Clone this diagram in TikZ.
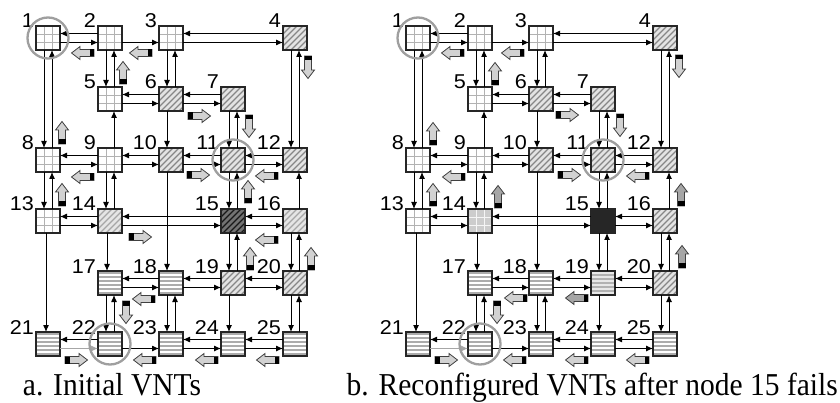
\documentclass[tikz,border=0pt]{standalone}
\usepackage{fontspec}
\setmainfont{Liberation Serif}
\newfontfamily\numfont{Liberation Sans}
\usetikzlibrary{arrows.meta}
\tikzset{
  box/.style={draw=black!85,line width=1.5pt,minimum size=24pt,inner sep=0pt,outer sep=0pt},
  gridbox/.style 2 args={box,fill=#1,path picture={
      \foreach \i in {-4,4}{
        \draw[#2,line width=0.8pt] ([xshift=\i pt]path picture bounding box.north) -- ([xshift=\i pt]path picture bounding box.south);
        \draw[#2,line width=0.8pt] ([yshift=\i pt]path picture bounding box.west) -- ([yshift=\i pt]path picture bounding box.east);}}},
  hatchbox/.style 2 args={box,fill=#1,path picture={
      \foreach \i in {-36,-30,...,12}{
        \draw[#2,line width=1.3pt] ([xshift=\i pt,yshift=-14pt]path picture bounding box.center) -- ++(28pt,28pt);}}},
  hlinebox/.style 2 args={box,fill=#1,path picture={
      \foreach \i in {-10,-6,-2,2,6,10}{
        \draw[#2,line width=1.3pt] ([yshift=\i pt]path picture bounding box.west) -- ([yshift=\i pt]path picture bounding box.east);}}},
  nG/.style={gridbox={white}{gray!60}},
  nGG/.style={gridbox={gray!40}{gray!8}},
  nH/.style={hatchbox={gray!22}{gray!95}},
  nHL/.style={hatchbox={gray!20}{gray!70}},
  nHD/.style={hatchbox={black!55}{black!90}},
  nS/.style={hlinebox={white}{gray!65}},
  nSG/.style={hlinebox={gray!60}{gray!18}},
  nK/.style={box,fill=black!85},
  lab/.style={anchor=base east,font=\numfont\fontsize{20}{22}\selectfont,inner sep=0pt,xshift=-2pt,yshift=-2pt},
  conn/.style={draw=black,line width=1pt,-{Latex[length=7pt,width=6pt]}},
  ring/.style={draw=gray!75,line width=2.3pt},
  captext/.style={font=\fontsize{29.5}{32}\selectfont,inner sep=0pt}
}
\newcommand\HLft[3]{\draw[conn] ([yshift=#3]#1.west) -- ([yshift=#3]#2.east);}
\newcommand\HRgt[3]{\draw[conn] ([yshift=#3]#1.east) -- ([yshift=#3]#2.west);}
\newcommand\VDn[3]{\draw[conn] ([xshift=#3]#1.south) -- ([xshift=#3]#2.north);}
\newcommand\VUp[3]{\draw[conn] ([xshift=#3]#1.north) -- ([xshift=#3]#2.south);}
\newcommand\blockarr[4]{%
  \begin{scope}[shift={(#1,#2)},rotate=#3]
    \draw[line width=0.8pt,draw=black!75,fill=#4] (-11,-3.5) -- (3,-3.5) -- (3,-6.5) -- (11.5,0) -- (3,6.5) -- (3,3.5) -- (-11,3.5) -- cycle;
    \fill[black] (-11,-3.5) rectangle (-6.5,3.5);
  \end{scope}}
\begin{document}
\begin{tikzpicture}[x=1pt,y=-1pt]
\useasboundingbox (0,0) rectangle (840,403);
% ---------- panel a nodes
\node[nG]  (a1)  at (48,38)  {};
\node[nG]  (a2)  at (110,38) {};
\node[nG]  (a3)  at (171,38) {};
\node[nH]  (a4)  at (295,38) {};
\node[nG]  (a5)  at (110,99) {};
\node[nH]  (a6)  at (171,99) {};
\node[nH]  (a7)  at (233,99) {};
\node[nG]  (a8)  at (48,160) {};
\node[nG]  (a9)  at (110,160) {};
\node[nH]  (a10) at (171,160) {};
\node[nH]  (a11) at (233,160) {};
\node[nH]  (a12) at (295,160) {};
\node[nG]  (a13) at (48,221) {};
\node[nHL] (a14) at (110,221) {};
\node[nHD] (a15) at (233,221) {};
\node[nHL] (a16) at (295,221) {};
\node[nS]  (a17) at (110,283) {};
\node[nS]  (a18) at (171,283) {};
\node[nH]  (a19) at (233,283) {};
\node[nH]  (a20) at (295,283) {};
\node[nS]  (a21) at (48,344) {};
\node[nS]  (a22) at (110,344) {};
\node[nS]  (a23) at (171,344) {};
\node[nS]  (a24) at (233,344) {};
\node[nS]  (a25) at (295,344) {};
% ---------- panel b nodes
\node[nG]  (b1)  at (418,38)  {};
\node[nG]  (b2)  at (480,38) {};
\node[nG]  (b3)  at (541,38) {};
\node[nH]  (b4)  at (665,38) {};
\node[nG]  (b5)  at (480,99) {};
\node[nH]  (b6)  at (541,99) {};
\node[nH]  (b7)  at (603,99) {};
\node[nG]  (b8)  at (418,160) {};
\node[nG]  (b9)  at (480,160) {};
\node[nH]  (b10) at (541,160) {};
\node[nH]  (b11) at (603,160) {};
\node[nH]  (b12) at (665,160) {};
\node[nG]  (b13) at (418,221) {};
\node[nGG] (b14) at (480,221) {};
\node[nK]  (b15) at (603,221) {};
\node[nH]  (b16) at (665,221) {};
\node[nS]  (b17) at (480,283) {};
\node[nS]  (b18) at (541,283) {};
\node[nSG] (b19) at (603,283) {};
\node[nH]  (b20) at (665,283) {};
\node[nS]  (b21) at (418,344) {};
\node[nS]  (b22) at (480,344) {};
\node[nS]  (b23) at (541,344) {};
\node[nS]  (b24) at (603,344) {};
\node[nS]  (b25) at (665,344) {};
% ---------- labels and connectors, both panels
\foreach \p in {a,b}{
  \foreach \n in {1,...,25}{\node[lab] (\p l\n) at (\p\n.north west) {\scalebox{1.08}[1]{\n}};}
  \HLft{\p2}{\p1}{4.5pt}   \HRgt{\p1}{\p2}{-4.5pt}
  \HRgt{\p2}{\p3}{-4.5pt}
  \HLft{\p4}{\p3}{4.5pt}   \HRgt{\p3}{\p4}{-4.5pt}
  \HLft{\p6}{\p5}{4.5pt}   \HRgt{\p5}{\p6}{-4.5pt}
  \HLft{\p7}{\p6}{4.5pt}   \HRgt{\p6}{\p7}{-4.5pt}
  \HLft{\p9}{\p8}{4.5pt}   \HRgt{\p8}{\p9}{-4.5pt}
  \HLft{\p10}{\p9}{4.5pt}  \HRgt{\p9}{\p10}{-4.5pt}
  \HLft{\p11}{\p10}{4.5pt} \HRgt{\p10}{\p11}{-4.5pt}
  \HLft{\p12}{\p11}{4.5pt} \HRgt{\p11}{\p12}{-4.5pt}
  \HLft{\p14}{\p13}{4.5pt} \HRgt{\p13}{\p14}{-4.5pt}
  \HLft{\p15}{\p14}{4.5pt} \HRgt{\p14}{\p15}{-4.5pt}
  \HLft{\p16}{\p15}{4.5pt} \HRgt{\p15}{\p16}{-4.5pt}
  \HLft{\p18}{\p17}{4.5pt} \HRgt{\p17}{\p18}{-4.5pt}
  \HLft{\p19}{\p18}{4.5pt} \HRgt{\p18}{\p19}{-4.5pt}
  \HLft{\p20}{\p19}{4.5pt} \HRgt{\p19}{\p20}{-4.5pt}
  \HLft{\p22}{\p21}{4.5pt}
  \draw[conn,draw=gray!70] ([yshift=-4.5pt]\p21.east) -- ([yshift=-4.5pt]\p22.west);
  \HRgt{\p22}{\p23}{-4.5pt}
  \HLft{\p24}{\p23}{4.5pt} \HRgt{\p23}{\p24}{-4.5pt}
  \HLft{\p25}{\p24}{4.5pt} \HRgt{\p24}{\p25}{-4.5pt}
  \VDn{\p1}{\p8}{-4pt}   \VUp{\p8}{\p1}{4pt}
  \VDn{\p2}{\p5}{-4pt}   \VUp{\p5}{\p2}{4pt}
  \VDn{\p3}{\p6}{-4pt}   \VUp{\p6}{\p3}{4pt}
  \VDn{\p4}{\p12}{-4pt}  \VUp{\p12}{\p4}{4pt}
  \VDn{\p6}{\p10}{-4pt}
  \VUp{\p9}{\p5}{4pt}
  \VDn{\p7}{\p11}{-4pt}  \VUp{\p11}{\p7}{4pt}
  \VDn{\p8}{\p13}{-4pt}  \VUp{\p13}{\p8}{4pt}
  \VDn{\p9}{\p14}{-4pt}  \VUp{\p14}{\p9}{4pt}
  \VDn{\p10}{\p18}{-4pt}
  \VDn{\p11}{\p15}{-4pt} \VUp{\p15}{\p11}{4pt}
  \VUp{\p16}{\p12}{4pt}
  \VDn{\p13}{\p21}{-2pt}
  \VDn{\p14}{\p17}{-3pt}
  \VDn{\p15}{\p19}{-4pt} \VUp{\p19}{\p15}{4pt}
  \VDn{\p16}{\p20}{-4pt} \VUp{\p20}{\p16}{4pt}
  \VDn{\p17}{\p22}{-4pt} \VUp{\p22}{\p17}{4pt}
  \VDn{\p18}{\p23}{-4pt} \VUp{\p23}{\p18}{4pt}
  \VDn{\p19}{\p24}{-4pt}
  \VDn{\p20}{\p25}{-4pt} \VUp{\p25}{\p20}{4pt}
  \draw[ring] (\p1) circle[radius=20.5pt];
  \draw[ring] (\p11) circle[radius=20.5pt];
  \draw[ring] (\p22) circle[radius=20.5pt];
}
% ---------- block arrows panel a
\blockarr{83}{53}{180}{gray!35}
\blockarr{141}{53}{180}{gray!35}
\blockarr{123}{73}{90}{gray!35}
\blockarr{308}{67}{-90}{gray!35}
\blockarr{199}{116}{0}{gray!35}
\blockarr{249}{126}{-90}{gray!35}
\blockarr{62}{133}{90}{gray!35}
\blockarr{83}{177}{180}{gray!35}
\blockarr{198}{175}{0}{gray!35}
\blockarr{267}{176}{180}{gray!35}
\blockarr{62}{195}{90}{gray!35}
\blockarr{248}{192}{90}{gray!35}
\blockarr{140}{237}{0}{gray!35}
\blockarr{267}{240}{180}{gray!35}
\blockarr{250}{259}{90}{gray!35}
\blockarr{311}{259}{90}{gray!35}
\blockarr{144}{299}{180}{gray!35}
\blockarr{126}{312}{-90}{gray!35}
\blockarr{76}{360}{0}{gray!35}
\blockarr{145}{360}{180}{gray!35}
\blockarr{207}{360}{180}{gray!35}
\blockarr{268}{360}{180}{gray!35}
% ---------- block arrows panel b
\blockarr{453}{53}{180}{gray!35}
\blockarr{513}{53}{180}{gray!35}
\blockarr{495}{74}{90}{gray!35}
\blockarr{679}{66}{-90}{gray!35}
\blockarr{567}{115}{0}{gray!35}
\blockarr{620}{125}{-90}{gray!35}
\blockarr{433}{134}{90}{gray!35}
\blockarr{454}{177}{180}{gray!35}
\blockarr{569}{175}{0}{gray!35}
\blockarr{638}{176}{180}{gray!35}
\blockarr{433}{195}{90}{gray!35}
\blockarr{498}{197}{90}{gray!70}
\blockarr{681}{195}{90}{gray!70}
\blockarr{682}{257}{90}{gray!70}
\blockarr{516}{298}{180}{gray!35}
\blockarr{577}{298}{180}{gray!70}
\blockarr{497}{312}{-90}{gray!35}
\blockarr{446}{360}{0}{gray!35}
\blockarr{515}{360}{180}{gray!35}
\blockarr{577}{360}{180}{gray!35}
\blockarr{638}{360}{180}{gray!35}
% ---------- captions
\node[captext,anchor=base] (capa) at (112,395) {\scalebox{1}[1.08]{a. Initial VNTs}};
\node[captext,anchor=base east] (capb) at (838,395) {\scalebox{1}[1.08]{b. Reconfigured VNTs after node 15 fails}};
\end{tikzpicture}
\end{document}
